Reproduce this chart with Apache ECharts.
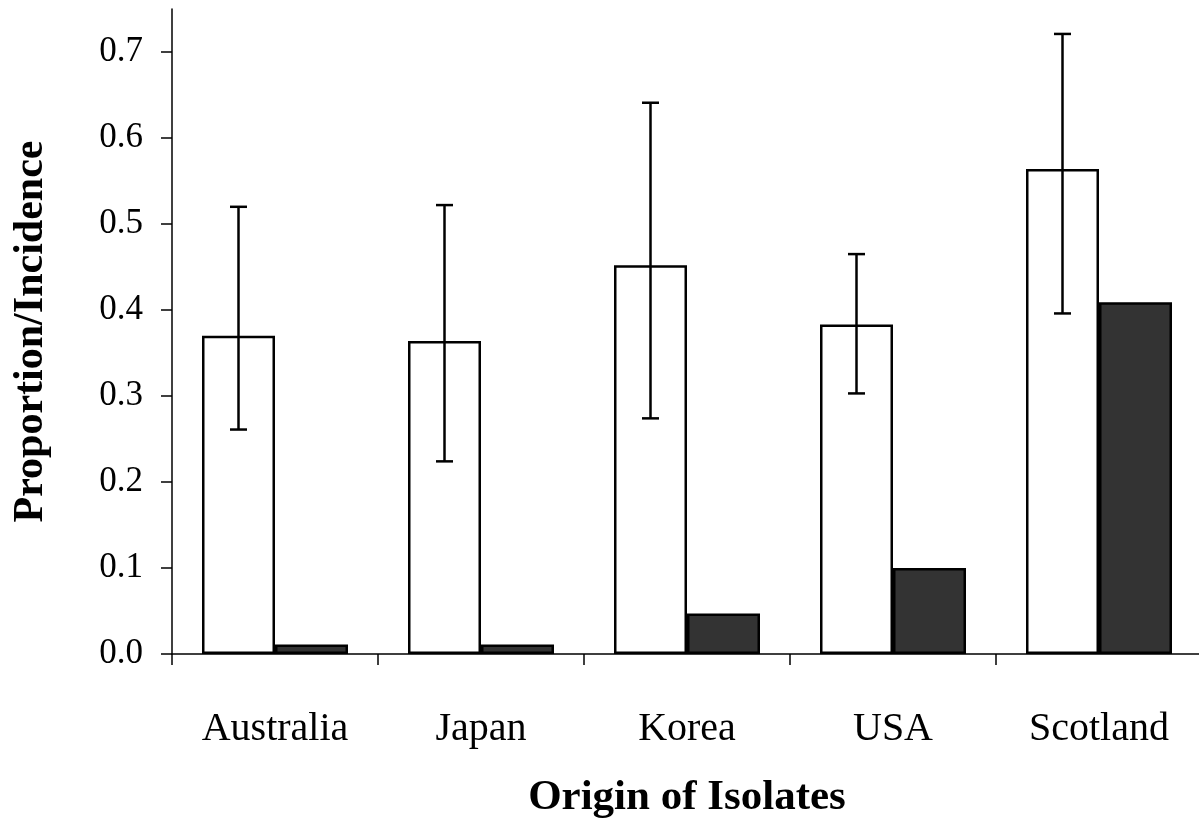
<!DOCTYPE html>
<html>
<head>
<meta charset="utf-8">
<script src="https://cdn.jsdelivr.net/npm/echarts@6/dist/echarts.min.js"></script>
<style>
html,body{margin:0;padding:0;background:#fff;}
#chart{width:1199px;height:821px;}
</style>
</head>
<body>
<div id="chart"></div>
<script>
var categories = ['Australia', 'Japan', 'Korea', 'USA', 'Scotland'];
var proportion = [0.370, 0.364, 0.452, 0.383, 0.564];
var errLow = [0.261, 0.224, 0.274, 0.303, 0.396];
var errHigh = [0.520, 0.522, 0.641, 0.465, 0.721];
var incidence = [0.011, 0.011, 0.047, 0.100, 0.409];
var yTicks = [0, 0.1, 0.2, 0.3, 0.4, 0.5, 0.6, 0.7];

var BAR_W = 73;
var FONT = '"Liberation Serif", "Times New Roman", serif';

var errData = categories.map(function (c, i) { return [i, errLow[i], errHigh[i]]; });

var chart = echarts.init(document.getElementById('chart'));
chart.setOption({
  animation: false,
  backgroundColor: '#ffffff',
  grid: { left: 172, top: 9, width: 1030, bottom: 167, containLabel: false, outerBoundsMode: 'none' },
  xAxis: {
    type: 'category',
    data: categories,
    boundaryGap: true,
    name: 'Origin of Isolates',
    nameLocation: 'middle',
    nameGap: 122,
    nameTextStyle: { fontFamily: FONT, fontSize: 43, fontWeight: 'bold', color: '#000' },
    axisLine: { lineStyle: { color: '#000', width: 1.5 } },
    axisTick: { show: true, length: 11, inside: false, lineStyle: { color: '#000', width: 1.5 } },
    axisLabel: { fontFamily: FONT, fontSize: 40, color: '#000', margin: 55 }
  },
  yAxis: {
    type: 'value',
    min: 0,
    max: 0.75,
    interval: 0.1,
    name: 'Proportion/Incidence',
    nameLocation: 'middle',
    nameGap: 120,
    nameRotate: 90,
    nameTextStyle: { fontFamily: FONT, fontSize: 42, fontWeight: 'bold', color: '#000' },
    splitLine: { show: false },
    axisLine: { show: true, lineStyle: { color: '#000', width: 1.5 } },
    axisTick: { show: true, length: 11, inside: false, customValues: yTicks, lineStyle: { color: '#000', width: 1.5 } },
    axisLabel: {
      fontFamily: FONT, fontSize: 35, color: '#000', margin: 29,
      customValues: yTicks,
      formatter: function (v) { return v.toFixed(1); }
    }
  },
  series: [
    {
      type: 'bar',
      data: proportion,
      barWidth: BAR_W,
      barGap: '0%',
      itemStyle: { color: '#ffffff', borderColor: '#000', borderWidth: 2.5 },
      z: 2
    },
    {
      type: 'bar',
      data: incidence,
      barWidth: BAR_W,
      barGap: '0%',
      itemStyle: { color: '#333333', borderColor: '#000', borderWidth: 2.5 },
      z: 2
    },
    {
      type: 'custom',
      data: errData,
      z: 5,
      renderItem: function (params, api) {
        var i = api.value(0);
        var lo = api.coord([i, api.value(1)]);
        var hi = api.coord([i, api.value(2)]);
        var x = lo[0] - BAR_W / 2;
        var cap = 8.5;
        var style = { stroke: '#000', lineWidth: 2.5, fill: null };
        return {
          type: 'group',
          children: [
            { type: 'line', shape: { x1: x, y1: lo[1], x2: x, y2: hi[1] }, style: style },
            { type: 'line', shape: { x1: x - cap, y1: lo[1], x2: x + cap, y2: lo[1] }, style: style },
            { type: 'line', shape: { x1: x - cap, y1: hi[1], x2: x + cap, y2: hi[1] }, style: style }
          ]
        };
      }
    }
  ]
});
</script>
</body>
</html>
